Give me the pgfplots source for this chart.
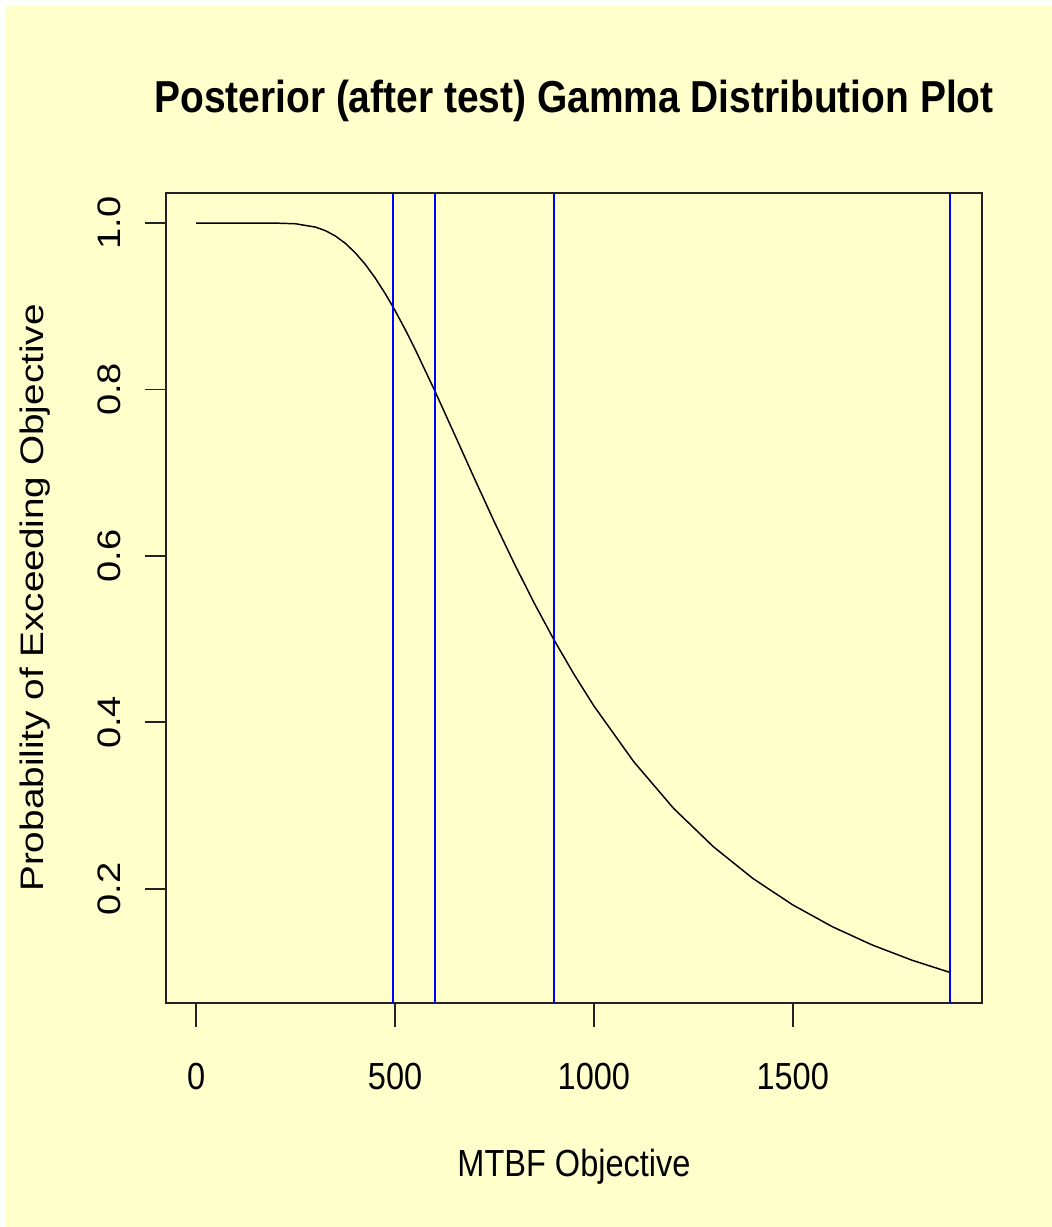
\documentclass[border=0pt]{standalone}
\usepackage{fontspec}
\setmainfont{Liberation Sans}
\usepackage{graphicx}
\usepackage{pgfplots}
\usepackage{pgfplotstable}
\pgfplotsset{compat=1.18}
\definecolor{bgyellow}{HTML}{FFFFCC}
\definecolor{axisgray}{HTML}{222222}
\newcommand{\hs}[1]{\scalebox{1}[1.16]{#1}}
\newcommand{\vs}[1]{\scalebox{1.17}[1]{#1}}

\pgfplotstableread{
m P
0 1.0000
50 1.0000
100 1.0000
150 1.0000
200 0.9999
250 0.9991
300 0.9951
325 0.9908
350 0.9844
375 0.9756
400 0.9642
425 0.9504
450 0.9340
475 0.9154
500 0.8949
525 0.8725
550 0.8488
600 0.7983
650 0.7456
700 0.6926
750 0.6405
800 0.5906
850 0.5432
900 0.4988
950 0.4577
1000 0.4197
1100 0.3528
1200 0.2968
1300 0.2507
1400 0.2123
1500 0.1806
1600 0.1543
1700 0.1324
1800 0.1141
1895 0.0995
}\curvedata

\begin{document}
\begin{tikzpicture}
\fill[white] (0,0) rectangle (789pt,920.25pt);
\fill[bgyellow] (4.5pt,0) rectangle (789pt,915.75pt);
\begin{axis}[
  at={(124.5pt,168pt)}, anchor=south west,
  scale only axis, width=612pt, height=607.5pt,
  xmin=-76, xmax=1976, ymin=0.0627, ymax=1.0361,
  clip=false,
  axis line style={line width=1.4pt, axisgray},
  tick align=outside, major tick length=18pt,
  tick style={draw=none},
  xtick={0,500,1000,1500}, xticklabels={\hs{0},\hs{500},\hs{1000},\hs{1500}},
  ytick={0.2,0.4,0.6,0.8,1.0}, yticklabels={\vs{0.2},\vs{0.4},\vs{0.6},\vs{0.8},\vs{1.0}},
  xtick pos=bottom, ytick pos=left,
  ticklabel style={font=\fontsize{24.4pt}{29pt}\selectfont},
  xticklabel style={anchor=base},
  yticklabel style={rotate=90, anchor=base},
  xticklabel shift=47pt, yticklabel shift=16pt,
  title={\scalebox{1}[1.15]{Posterior (after test) Gamma Distribution Plot}},
  title style={font=\bfseries\fontsize{29.2pt}{35pt}\selectfont, at={(axis description cs:0.5,1.0890)}, anchor=base},
  xlabel={\hs{MTBF Objective}},
  xlabel style={font=\fontsize{24.4pt}{29pt}\selectfont, at={(axis description cs:0.5,-0.2148)}, anchor=base},
  ylabel={\scalebox{1.19}[1]{Probability of Exceeding Objective}},
  ylabel style={font=\fontsize{24.4pt}{29pt}\selectfont, at={(axis description cs:-0.1503,0.5)}, anchor=base},
]
\addplot[black, line width=1.1pt] table[x=m, y=P] {\curvedata};
\addplot[blue, line width=1.4pt] coordinates {(494,0.0627) (494,1.0361)};
\addplot[blue, line width=1.4pt] coordinates {(600,0.0627) (600,1.0361)};
\addplot[blue, line width=1.4pt] coordinates {(900,0.0627) (900,1.0361)};
\addplot[blue, line width=1.4pt] coordinates {(1895,0.0627) (1895,1.0361)};
% R-style tick marks
\addplot[axisgray, line width=1.4pt, forget plot] coordinates {(0,0.0627) (0,0.0339)};
\addplot[axisgray, line width=1.4pt, forget plot] coordinates {(500,0.0627) (500,0.0339)};
\addplot[axisgray, line width=1.4pt, forget plot] coordinates {(1000,0.0627) (1000,0.0339)};
\addplot[axisgray, line width=1.4pt, forget plot] coordinates {(1500,0.0627) (1500,0.0339)};
\addplot[axisgray, line width=1.4pt, forget plot] coordinates {(-76,0.2) (-129,0.2)};
\addplot[axisgray, line width=1.4pt, forget plot] coordinates {(-76,0.4) (-129,0.4)};
\addplot[axisgray, line width=1.4pt, forget plot] coordinates {(-76,0.6) (-129,0.6)};
\addplot[axisgray, line width=1.4pt, forget plot] coordinates {(-76,0.8) (-129,0.8)};
\addplot[axisgray, line width=1.4pt, forget plot] coordinates {(-76,1.0) (-129,1.0)};
\end{axis}
\pgfresetboundingbox
\useasboundingbox (0,0) rectangle (789pt,920.25pt);
\end{tikzpicture}
\end{document}
